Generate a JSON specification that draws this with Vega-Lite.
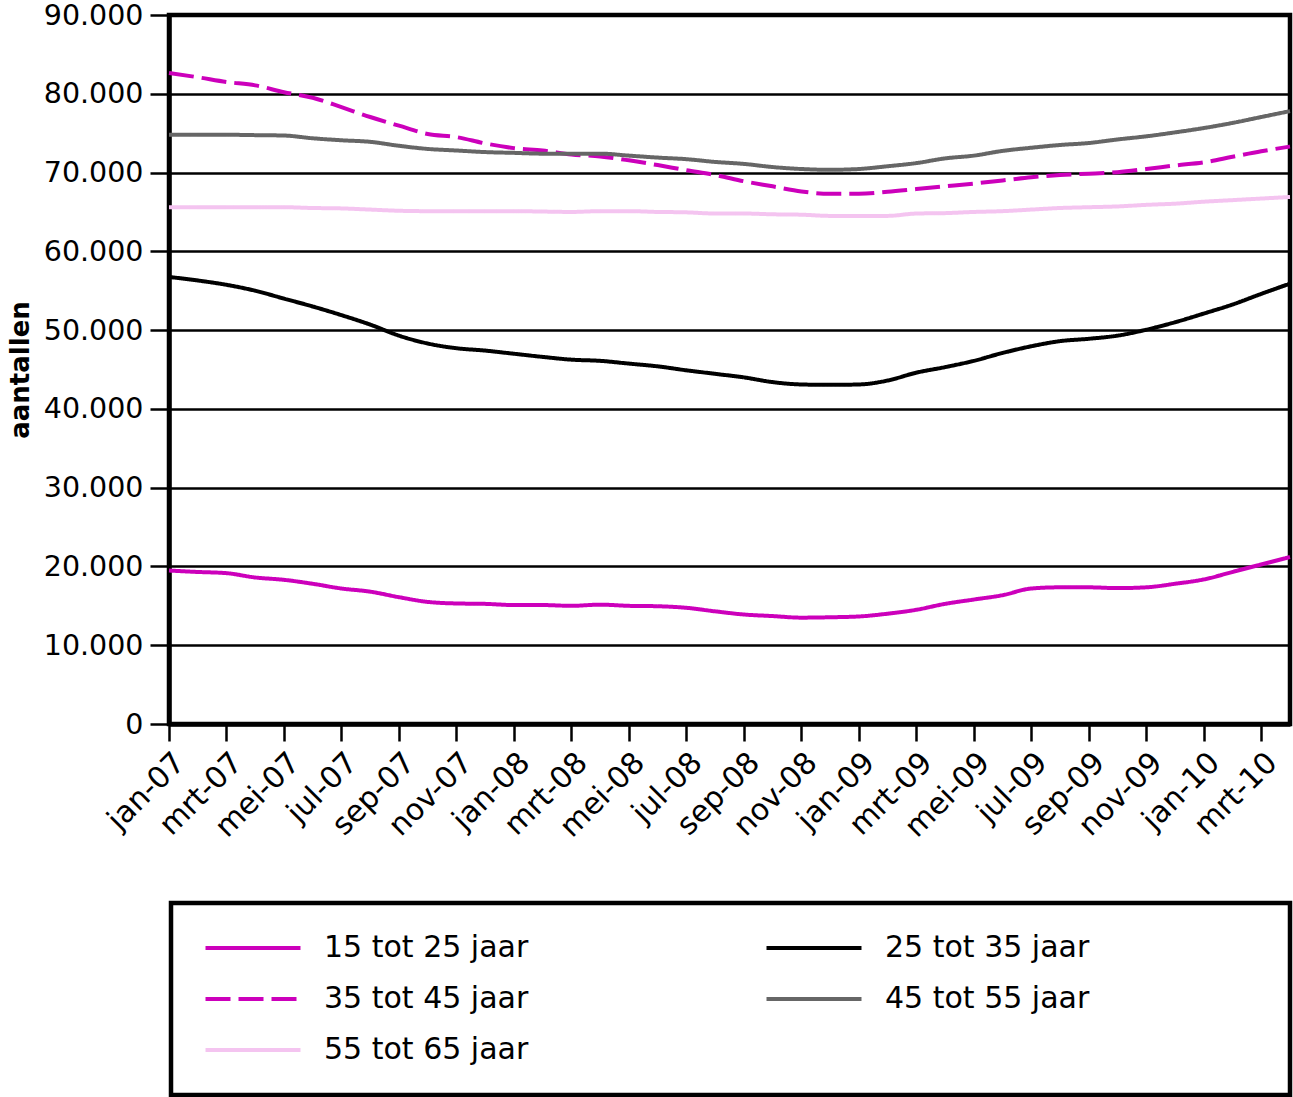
{
  "$schema": "https://vega.github.io/schema/vega-lite/v6.json",
  "autosize": "none",
  "width": 1121,
  "height": 709,
  "padding": {"left": 169, "top": 15, "right": 3, "bottom": 373},
  "background": "white",
  "data": {
    "values": [
      {"maand": "jan-07", "15 tot 25 jaar": 19480, "25 tot 35 jaar": 56750, "35 tot 45 jaar": 82640, "45 tot 55 jaar": 74800, "55 tot 65 jaar": 65600},
      {"maand": "feb-07", "15 tot 25 jaar": 19300, "25 tot 35 jaar": 56300, "35 tot 45 jaar": 82100, "45 tot 55 jaar": 74800, "55 tot 65 jaar": 65600},
      {"maand": "mrt-07", "15 tot 25 jaar": 19150, "25 tot 35 jaar": 55750, "35 tot 45 jaar": 81500, "45 tot 55 jaar": 74800, "55 tot 65 jaar": 65600},
      {"maand": "apr-07", "15 tot 25 jaar": 18600, "25 tot 35 jaar": 55000, "35 tot 45 jaar": 81070, "45 tot 55 jaar": 74750, "55 tot 65 jaar": 65600},
      {"maand": "mei-07", "15 tot 25 jaar": 18300, "25 tot 35 jaar": 54000, "35 tot 45 jaar": 80200, "45 tot 55 jaar": 74700, "55 tot 65 jaar": 65600},
      {"maand": "jun-07", "15 tot 25 jaar": 17800, "25 tot 35 jaar": 53000, "35 tot 45 jaar": 79500, "45 tot 55 jaar": 74350, "55 tot 65 jaar": 65500},
      {"maand": "jul-07", "15 tot 25 jaar": 17200, "25 tot 35 jaar": 51900, "35 tot 45 jaar": 78300, "45 tot 55 jaar": 74100, "55 tot 65 jaar": 65450},
      {"maand": "aug-07", "15 tot 25 jaar": 16800, "25 tot 35 jaar": 50700, "35 tot 45 jaar": 77050, "45 tot 55 jaar": 73900, "55 tot 65 jaar": 65300},
      {"maand": "sep-07", "15 tot 25 jaar": 16100, "25 tot 35 jaar": 49300, "35 tot 45 jaar": 75950, "45 tot 55 jaar": 73400, "55 tot 65 jaar": 65150},
      {"maand": "okt-07", "15 tot 25 jaar": 15500, "25 tot 35 jaar": 48300, "35 tot 45 jaar": 74900, "45 tot 55 jaar": 73000, "55 tot 65 jaar": 65100},
      {"maand": "nov-07", "15 tot 25 jaar": 15300, "25 tot 35 jaar": 47700, "35 tot 45 jaar": 74500, "45 tot 55 jaar": 72800, "55 tot 65 jaar": 65100},
      {"maand": "dec-07", "15 tot 25 jaar": 15250, "25 tot 35 jaar": 47400, "35 tot 45 jaar": 73700, "45 tot 55 jaar": 72600, "55 tot 65 jaar": 65100},
      {"maand": "jan-08", "15 tot 25 jaar": 15100, "25 tot 35 jaar": 47000, "35 tot 45 jaar": 73100, "45 tot 55 jaar": 72500, "55 tot 65 jaar": 65100},
      {"maand": "feb-08", "15 tot 25 jaar": 15100, "25 tot 35 jaar": 46600, "35 tot 45 jaar": 72800, "45 tot 55 jaar": 72400, "55 tot 65 jaar": 65050},
      {"maand": "mrt-08", "15 tot 25 jaar": 15000, "25 tot 35 jaar": 46250, "35 tot 45 jaar": 72300, "45 tot 55 jaar": 72400, "55 tot 65 jaar": 65000},
      {"maand": "apr-08", "15 tot 25 jaar": 15150, "25 tot 35 jaar": 46100, "35 tot 45 jaar": 72050, "45 tot 55 jaar": 72400, "55 tot 65 jaar": 65100},
      {"maand": "mei-08", "15 tot 25 jaar": 15000, "25 tot 35 jaar": 45750, "35 tot 45 jaar": 71550, "45 tot 55 jaar": 72150, "55 tot 65 jaar": 65100},
      {"maand": "jun-08", "15 tot 25 jaar": 14950, "25 tot 35 jaar": 45400, "35 tot 45 jaar": 70950, "45 tot 55 jaar": 71900, "55 tot 65 jaar": 65000},
      {"maand": "jul-08", "15 tot 25 jaar": 14750, "25 tot 35 jaar": 44900, "35 tot 45 jaar": 70300, "45 tot 55 jaar": 71700, "55 tot 65 jaar": 64950},
      {"maand": "aug-08", "15 tot 25 jaar": 14300, "25 tot 35 jaar": 44450, "35 tot 45 jaar": 69700, "45 tot 55 jaar": 71350, "55 tot 65 jaar": 64800},
      {"maand": "sep-08", "15 tot 25 jaar": 13900, "25 tot 35 jaar": 44000, "35 tot 45 jaar": 68900, "45 tot 55 jaar": 71100, "55 tot 65 jaar": 64800},
      {"maand": "okt-08", "15 tot 25 jaar": 13700, "25 tot 35 jaar": 43400, "35 tot 45 jaar": 68250, "45 tot 55 jaar": 70700, "55 tot 65 jaar": 64700},
      {"maand": "nov-08", "15 tot 25 jaar": 13500, "25 tot 35 jaar": 43100, "35 tot 45 jaar": 67600, "45 tot 55 jaar": 70450, "55 tot 65 jaar": 64650},
      {"maand": "dec-08", "15 tot 25 jaar": 13550, "25 tot 35 jaar": 43050, "35 tot 45 jaar": 67300, "45 tot 55 jaar": 70350, "55 tot 65 jaar": 64500},
      {"maand": "jan-09", "15 tot 25 jaar": 13650, "25 tot 35 jaar": 43100, "35 tot 45 jaar": 67300, "45 tot 55 jaar": 70450, "55 tot 65 jaar": 64500},
      {"maand": "feb-09", "15 tot 25 jaar": 14000, "25 tot 35 jaar": 43600, "35 tot 45 jaar": 67550, "45 tot 55 jaar": 70800, "55 tot 65 jaar": 64500},
      {"maand": "mrt-09", "15 tot 25 jaar": 14500, "25 tot 35 jaar": 44600, "35 tot 45 jaar": 67900, "45 tot 55 jaar": 71200, "55 tot 65 jaar": 64800},
      {"maand": "apr-09", "15 tot 25 jaar": 15250, "25 tot 35 jaar": 45300, "35 tot 45 jaar": 68250, "45 tot 55 jaar": 71800, "55 tot 65 jaar": 64850},
      {"maand": "mei-09", "15 tot 25 jaar": 15800, "25 tot 35 jaar": 46100, "35 tot 45 jaar": 68600, "45 tot 55 jaar": 72150, "55 tot 65 jaar": 65000},
      {"maand": "jun-09", "15 tot 25 jaar": 16350, "25 tot 35 jaar": 47100, "35 tot 45 jaar": 69000, "45 tot 55 jaar": 72750, "55 tot 65 jaar": 65100},
      {"maand": "jul-09", "15 tot 25 jaar": 17200, "25 tot 35 jaar": 47950, "35 tot 45 jaar": 69400, "45 tot 55 jaar": 73150, "55 tot 65 jaar": 65300},
      {"maand": "aug-09", "15 tot 25 jaar": 17350, "25 tot 35 jaar": 48600, "35 tot 45 jaar": 69700, "45 tot 55 jaar": 73500, "55 tot 65 jaar": 65500},
      {"maand": "sep-09", "15 tot 25 jaar": 17350, "25 tot 35 jaar": 48900, "35 tot 45 jaar": 69850, "45 tot 55 jaar": 73750, "55 tot 65 jaar": 65600},
      {"maand": "okt-09", "15 tot 25 jaar": 17250, "25 tot 35 jaar": 49300, "35 tot 45 jaar": 70050, "45 tot 55 jaar": 74200, "55 tot 65 jaar": 65700},
      {"maand": "nov-09", "15 tot 25 jaar": 17350, "25 tot 35 jaar": 50050, "35 tot 45 jaar": 70450, "45 tot 55 jaar": 74600, "55 tot 65 jaar": 65900},
      {"maand": "dec-09", "15 tot 25 jaar": 17800, "25 tot 35 jaar": 51000, "35 tot 45 jaar": 70900, "45 tot 55 jaar": 75100, "55 tot 65 jaar": 66050},
      {"maand": "jan-10", "15 tot 25 jaar": 18350, "25 tot 35 jaar": 52100, "35 tot 45 jaar": 71300, "45 tot 55 jaar": 75650, "55 tot 65 jaar": 66300},
      {"maand": "feb-10", "15 tot 25 jaar": 19300, "25 tot 35 jaar": 53250, "35 tot 45 jaar": 72000, "45 tot 55 jaar": 76300, "55 tot 65 jaar": 66500},
      {"maand": "mrt-10", "15 tot 25 jaar": 20250, "25 tot 35 jaar": 54600, "35 tot 45 jaar": 72700, "45 tot 55 jaar": 77050, "55 tot 65 jaar": 66700},
      {"maand": "apr-10", "15 tot 25 jaar": 21200, "25 tot 35 jaar": 55900, "35 tot 45 jaar": 73300, "45 tot 55 jaar": 77800, "55 tot 65 jaar": 66900}
    ]
  },
  "transform": [
    {"fold": ["15 tot 25 jaar", "25 tot 35 jaar", "35 tot 45 jaar", "45 tot 55 jaar", "55 tot 65 jaar"], "as": ["groep", "aantal"]}
  ],
  "mark": {"type": "line", "strokeWidth": 4, "interpolate": "monotone"},
  "encoding": {
    "x": {
      "field": "maand",
      "type": "ordinal",
      "sort": null,
      "scale": {"type": "point", "padding": 0},
      "axis": {
        "title": null,
        "values": ["jan-07", "mrt-07", "mei-07", "jul-07", "sep-07", "nov-07", "jan-08", "mrt-08", "mei-08", "jul-08", "sep-08", "nov-08", "jan-09", "mrt-09", "mei-09", "jul-09", "sep-09", "nov-09", "jan-10", "mrt-10"],
        "labelAngle": -45,
        "labelFontSize": 30,
        "labelPadding": 6,
        "tickSize": 17,
        "tickWidth": 2.5,
        "tickColor": "black",
        "domainColor": "black",
        "domainWidth": 4.5,
        "grid": false
      }
    },
    "y": {
      "field": "aantal",
      "type": "quantitative",
      "scale": {"domain": [0, 90000], "nice": false},
      "axis": {
        "title": "aantallen",
        "titleFontSize": 26,
        "titleFontWeight": "bold",
        "titlePadding": 10,
        "values": [0, 10000, 20000, 30000, 40000, 50000, 60000, 70000, 80000, 90000],
        "labelExpr": "replace(format(datum.value, ','), ',', '.')",
        "labelFontSize": 28.5,
        "labelPadding": 7,
        "tickSize": 19,
        "tickWidth": 2.5,
        "tickColor": "black",
        "domainColor": "black",
        "domainWidth": 4.5,
        "grid": true,
        "gridColor": "black",
        "gridWidth": 2.5,
        "gridOpacity": 1
      }
    },
    "color": {
      "field": "groep",
      "type": "nominal",
      "scale": {
        "domain": ["15 tot 25 jaar", "35 tot 45 jaar", "55 tot 65 jaar", "25 tot 35 jaar", "45 tot 55 jaar"],
        "range": ["#cc00bb", "#cc00bb", "#f4c4f0", "#000000", "#666666"]
      },
      "legend": {
        "title": "\u00a0",
        "titleOrient": "right",
        "titlePadding": 171,
        "titleFontSize": 10,
        "orient": "none",
        "legendX": 2,
        "legendY": 888,
        "columns": 2,
        "padding": 30,
        "columnPadding": 229,
        "rowPadding": 21,
        "symbolType": "M-4,0H4",
        "symbolSize": 564,
        "symbolStrokeWidth": 4,
        "symbolOffset": 37,
        "labelOffset": 56,
        "labelFontSize": 30,
        "labelLimit": 0
      }
    },
    "strokeDash": {
      "field": "groep",
      "type": "nominal",
      "scale": {
        "domain": ["15 tot 25 jaar", "35 tot 45 jaar", "55 tot 65 jaar", "25 tot 35 jaar", "45 tot 55 jaar"],
        "range": [[1, 0], [25, 8], [1, 0], [1, 0], [1, 0]]
      },
      "legend": {
        "title": "\u00a0",
        "titleOrient": "right",
        "titlePadding": 171,
        "titleFontSize": 10,
        "orient": "none",
        "legendX": 2,
        "legendY": 888,
        "columns": 2,
        "padding": 30,
        "columnPadding": 229,
        "rowPadding": 21,
        "symbolType": "M-4,0H4",
        "symbolSize": 564,
        "symbolStrokeWidth": 4,
        "symbolOffset": 37,
        "labelOffset": 56,
        "labelFontSize": 30,
        "labelLimit": 0
      }
    }
  },
  "config": {
    "font": "DejaVu Sans",
    "view": {"stroke": "black", "strokeWidth": 4.5},
    "axis": {"labelColor": "black", "titleColor": "black", "labelFont": "DejaVu Sans", "titleFont": "DejaVu Sans"},
    "legend": {"strokeColor": "black", "strokeWidth": 4.5, "fillColor": "white", "labelColor": "black", "labelFont": "DejaVu Sans"}
  }
}
